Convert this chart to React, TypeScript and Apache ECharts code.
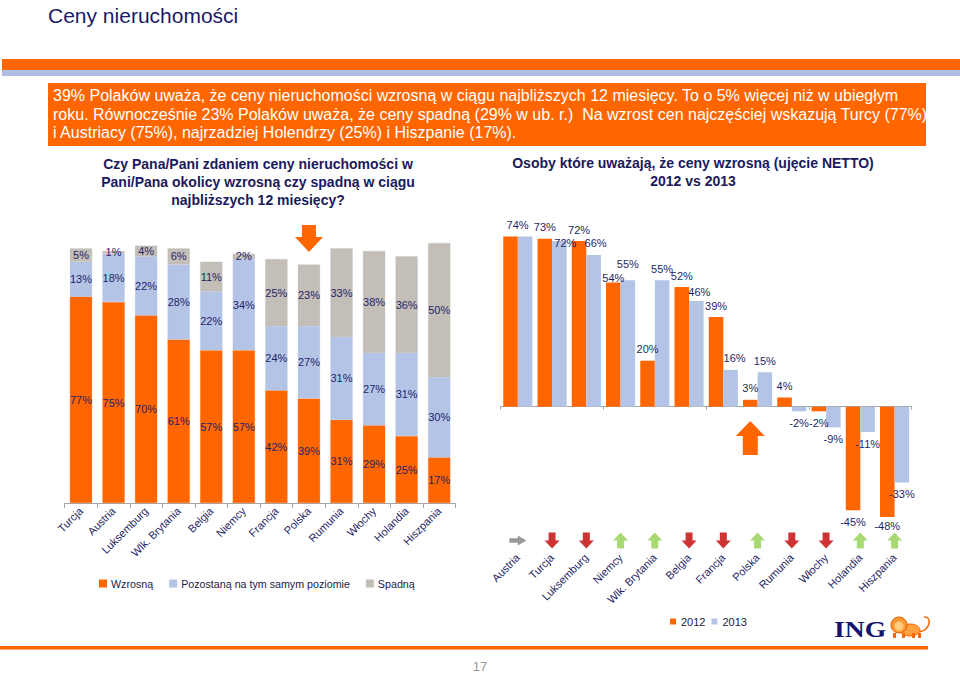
import React, { useEffect, useRef } from 'react';
import * as echarts from 'echarts';

// ---- data: left chart (stacked) ----
const leftCategories = ['Turcja', 'Austria', 'Luksemburg', 'Wlk. Brytania', 'Belgia', 'Niemcy', 'Francja', 'Polska', 'Rumunia', 'Włochy', 'Holandia', 'Hiszpania'];
const riseValues = [77, 75, 70, 61, 57, 57, 42, 39, 31, 29, 25, 17];
const sameValues = [13, 18, 22, 28, 22, 34, 24, 27, 31, 27, 31, 30];
const fallValues = [5, 1, 4, 6, 11, 2, 25, 23, 33, 38, 36, 50];

// ---- data: right chart (net, 2012 vs 2013) ----
const rightCategories = ['Austria', 'Turcja', 'Luksemburg', 'Niemcy', 'Wlk. Brytania', 'Belgia', 'Francja', 'Polska', 'Rumunia', 'Włochy', 'Holandia', 'Hiszpania'];
const net2012 = [74, 73, 72, 54, 20, 52, 39, 3, 4, -2, -45, -48];
const net2013 = [74, 72, 66, 55, 55, 46, 16, 15, -2, -9, -11, -33];
const trend = ['flat', 'down', 'down', 'up', 'up', 'down', 'down', 'up', 'down', 'down', 'up', 'up'];

const leftSeriesNames = ['Wzrosną', 'Pozostaną na tym samym poziomie', 'Spadną'];
const rightSeriesNames = ['2012', '2013'];

const headerLines = [
  '39% Polaków uważa, że ceny nieruchomości wzrosną w ciągu najbliższych 12 miesięcy. To o 5% więcej niż w ubiegłym',
  'roku. Równocześnie 23% Polaków uważa, że ceny spadną (29% w ub. r.)  Na wzrost cen najczęściej wskazują Turcy (77%)',
  'i Austriacy (75%), najrzadziej Holendrzy (25%) i Hiszpanie (17%).',
];

const ORANGE = '#ff6600';
const BLUE = '#b4c4e6';
const GRAY = '#c3beb7';
const NAVY = '#1f1f66';
const FONT = '"Liberation Sans", Arial, sans-serif';

// label tweaks (style only) for right chart: key "series-index"
const labelTweaks: Record<string, any> = {
  '0-0': { offset: [7, 0] },
  '1-0': { show: false },
  '1-1': { offset: [6, 13] },
  '1-2': { offset: [2, 0] },
  '0-3': { offset: [0, 7] },
  '1-3': { offset: [0, -5] },
  '1-5': { offset: [3, 3] },
  '1-6': { offset: [4, 0] },
  '0-11': { offset: [0, -3] },
};

const UP_ARROW = 'path://M7.5,0 L15,8 L11,8 L11,16 L4,16 L4,8 L0,8 Z';
const BIG_UP = 'path://M14.5,0 L29,15 L22,15 L22,34 L7,34 L7,15 L0,15 Z';
const BIG_DOWN = 'path://M7,0 L21,0 L21,12 L28,12 L14,27 L0,12 L7,12 Z';

function buildOption(): any {
  const labelBase = { color: NAVY, fontSize: 11, fontFamily: FONT, textBorderWidth: 0 };
  const leftColors = [ORANGE, BLUE, GRAY];
  const leftData = [riseValues, sameValues, fallValues];

  const leftSeries = leftData.map((arr, si) => ({
    type: 'bar',
    name: leftSeriesNames[si],
    xAxisIndex: 0,
    yAxisIndex: 0,
    stack: 'left',
    barWidth: '68%',
    data: arr,
    itemStyle: { color: leftColors[si], borderColor: leftColors[si], borderWidth: 0.3 },
    label: { show: true, position: 'inside', formatter: (p: any) => p.value + '%', ...labelBase },
    markPoint: si === 2 ? {
      silent: true,
      symbol: BIG_DOWN,
      symbolSize: [28, 27],
      label: { show: false },
      itemStyle: { color: ORANGE },
      data: [{ coord: [7, 98.7] }],
    } : undefined,
  }));

  const rightData = [net2012, net2013];
  const rightColors = [ORANGE, BLUE];
  const rightSeries = rightData.map((arr, si) => ({
    type: 'bar',
    name: rightSeriesNames[si],
    xAxisIndex: 1,
    yAxisIndex: 1,
    barGap: '0%',
    barCategoryGap: '15%',
    itemStyle: { color: rightColors[si] },
    label: { show: true, distance: 6, formatter: (p: any) => p.value + '%', ...labelBase },
    data: arr.map((v, i) => ({
      value: v,
      label: { position: v < 0 ? 'bottom' : 'top', ...(labelTweaks[si + '-' + i] || {}) },
    })),
    markPoint: si === 0 ? {
      silent: true,
      symbol: BIG_UP,
      symbolSize: [29, 34],
      label: { show: false },
      itemStyle: { color: ORANGE },
      data: [{ coord: [7, -13.6] }],
    } : undefined,
  }));

  const trendColor: Record<string, string> = { up: '#92d050', down: '#c00000', flat: '#808080' };
  const arrowSeries = {
    type: 'scatter',
    name: 'trend',
    xAxisIndex: 3,
    yAxisIndex: 2,
    symbol: UP_ARROW,
    silent: true,
    data: trend.map((t, i) => ({
      value: [i, 0.5],
      symbolRotate: t === 'up' ? 0 : t === 'down' ? 180 : -90,
      symbolSize: t === 'flat' ? [10, 17] : [15, 16],
      itemStyle: { color: trendColor[t] },
    })),
  };

  const axisLabelBase = { color: NAVY, fontSize: 11, fontFamily: FONT, rotate: 45, interval: 0 };

  return {
    animation: false,
    backgroundColor: '#ffffff',
    textStyle: { fontFamily: FONT },
    grid: [
      { left: 64.7, top: 235, width: 390.8, height: 268, outerBoundsMode: 'none' },
      { left: 500.7, top: 222.7, width: 411, height: 299, outerBoundsMode: 'none' },
      { left: 500.7, top: 532, width: 411, height: 17, outerBoundsMode: 'none' },
    ],
    xAxis: [
      {
        type: 'category', gridIndex: 0, data: leftCategories,
        axisLine: { show: true, lineStyle: { color: '#a6a6a6' } },
        axisTick: { show: true, length: 5, lineStyle: { color: '#a6a6a6' } },
        axisLabel: { ...axisLabelBase, margin: 6 },
      },
      {
        type: 'category', gridIndex: 1, data: rightCategories, position: 'bottom',
        axisLine: { show: false, onZero: false },
        axisTick: { show: false },
        axisLabel: { ...axisLabelBase, margin: 34 },
      },
      {
        type: 'category', gridIndex: 1, data: rightCategories, position: 'top',
        axisLine: { show: true, onZero: true, lineStyle: { color: '#a6a6a6' } },
        axisTick: { show: true, inside: true, length: 3, lineStyle: { color: '#a6a6a6' } },
        axisLabel: { show: false },
      },
      {
        type: 'category', gridIndex: 2, data: rightCategories, show: false,
      },
    ],
    yAxis: [
      { type: 'value', gridIndex: 0, min: 0, max: 100, show: false },
      { type: 'value', gridIndex: 1, min: -50, max: 80, show: false },
      { type: 'value', gridIndex: 2, min: 0, max: 1, show: false },
    ],
    legend: [
      {
        data: leftSeriesNames, left: 99, top: 578, padding: 0, icon: 'rect', itemWidth: 6, itemHeight: 6, itemGap: 16,
        textStyle: { color: '#222244', fontSize: 10.7, fontFamily: FONT }, selectedMode: false,
      },
      {
        data: rightSeriesNames, left: 670, top: 616, padding: 0, icon: 'rect', itemWidth: 6, itemHeight: 6, itemGap: 6,
        textStyle: { color: '#222244', fontSize: 11, fontFamily: FONT }, selectedMode: false,
      },
    ],
    series: [...leftSeries, ...rightSeries, arrowSeries],
    graphic: [
      { type: 'text', x: 48, y: 15, style: { text: 'Ceny nieruchomości', fill: '#1a1a66', fontSize: 21, fontFamily: FONT, textVerticalAlign: 'middle' } },
      { type: 'rect', shape: { x: 2, y: 59, width: 958, height: 11 }, style: { fill: ORANGE } },
      { type: 'rect', shape: { x: 2, y: 70, width: 958, height: 6 }, style: { fill: '#b0bee4' } },
      { type: 'rect', shape: { x: 48, y: 83, width: 878, height: 63 }, style: { fill: ORANGE } },
      { type: 'text', x: 53, y: 86.5, style: { text: headerLines.join('\n'), fill: '#ffffff', fontSize: 16, lineHeight: 18.5, fontFamily: FONT, textVerticalAlign: 'top' } },
      { type: 'text', x: 258, y: 155, style: { text: 'Czy Pana/Pani zdaniem ceny nieruchomości w\nPani/Pana okolicy wzrosną czy spadną w ciągu\nnajbliższych 12 miesięcy?', fill: '#1a1a5c', fontSize: 14, fontWeight: 'bold', lineHeight: 18, fontFamily: FONT, textAlign: 'center', textVerticalAlign: 'top' } },
      { type: 'text', x: 693, y: 154, style: { text: 'Osoby które uważają, że ceny wzrosną (ujęcie NETTO)\n2012 vs 2013', fill: '#1a1a5c', fontSize: 14, fontWeight: 'bold', lineHeight: 18, fontFamily: FONT, textAlign: 'center', textVerticalAlign: 'top' } },
      { type: 'text', x: 834, y: 629, scaleX: 1.2, style: { text: 'ING', fill: '#14146e', fontSize: 23, fontWeight: 'bold', fontFamily: '"Liberation Serif", "DejaVu Serif", serif', textVerticalAlign: 'middle' } },
      {
        type: 'group', children: [
          { type: 'bezierCurve', shape: { x1: 919, y1: 632, cpx1: 931, cpy1: 630, cpx2: 932, cpy2: 616, x2: 924, y2: 617 }, style: { stroke: ORANGE, lineWidth: 1.5, fill: null } },
          { type: 'ellipse', shape: { cx: 910, cy: 630, rx: 10, ry: 6 }, style: { fill: '#ffa040', stroke: ORANGE, lineWidth: 1 } },
          { type: 'rect', shape: { x: 893, y: 633, width: 3, height: 5 }, style: { fill: ORANGE } },
          { type: 'rect', shape: { x: 902, y: 633, width: 3, height: 5 }, style: { fill: ORANGE } },
          { type: 'rect', shape: { x: 912, y: 633, width: 3, height: 5 }, style: { fill: ORANGE } },
          { type: 'rect', shape: { x: 918, y: 633, width: 3, height: 5 }, style: { fill: ORANGE } },
          { type: 'circle', shape: { cx: 899, cy: 625, r: 8 }, style: { fill: '#ff9933', stroke: '#e65c00', lineWidth: 1 } },
          { type: 'circle', shape: { cx: 899, cy: 626, r: 4.5 }, style: { fill: '#ffcc80' } },
        ],
      },
      { type: 'rect', shape: { x: 0, y: 646, width: 928, height: 3.5 }, style: { fill: ORANGE } },
      { type: 'text', x: 480, y: 666, style: { text: '17', fill: '#999999', fontSize: 13, fontFamily: FONT, textAlign: 'center', textVerticalAlign: 'middle' } },
    ],
  };
}

export default function App() {
  const ref = useRef<HTMLDivElement>(null);
  useEffect(() => {
    if (!ref.current) return;
    const chart = echarts.init(ref.current, null, { renderer: 'svg' });
    chart.setOption(buildOption());
    return () => chart.dispose();
  }, []);
  return (
    <div
      ref={ref}
      style={{ position: 'absolute', left: 0, top: 0, width: 960, height: 673, background: '#ffffff' }}
    />
  );
}
